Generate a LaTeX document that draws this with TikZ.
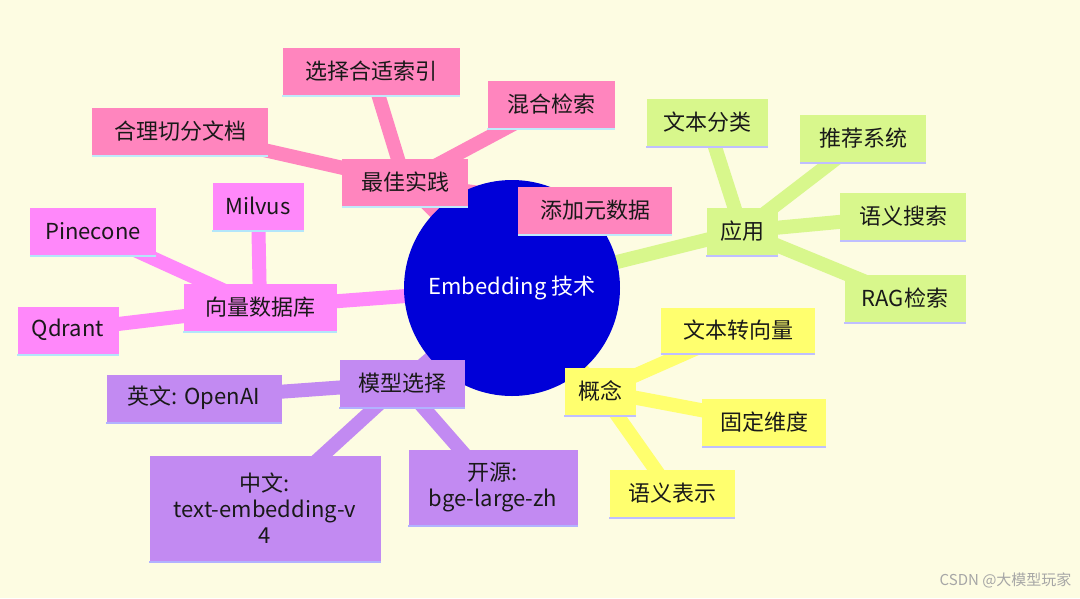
\documentclass[tikz,border=0pt]{standalone}
\usepackage{fontspec}
\setmainfont{Noto Sans CJK SC}
\begin{document}
\begin{tikzpicture}[x=1pt,y=-1pt,
  box/.style={inner sep=0pt, minimum height=47pt, align=center, font=\fontsize{22}{26}\selectfont, text=black!90},
  pk/.style={box, fill=pinkc}, gr/.style={box, fill=greenc}, ye/.style={box, fill=yelc},
  pu/.style={box, fill=purc}, mg/.style={box, fill=magc},
  ln/.style={line width=14pt}]
\definecolor{bgc}{HTML}{FDFCE2}
\definecolor{pinkc}{HTML}{FF85BE}
\definecolor{greenc}{HTML}{D8F78C}
\definecolor{yelc}{HTML}{FFFF6E}
\definecolor{purc}{HTML}{C28AF2}
\definecolor{magc}{HTML}{FF88FA}
\definecolor{bluec}{HTML}{0000D8}
\fill[bgc] (0,0) rectangle (1080,598);
\useasboundingbox (0,0) rectangle (1080,598);
\coordinate (c) at (512,288);
\path
 (405,182) coordinate[pk,minimum width=126pt] (bp)
 (371,71) coordinate (bp1) (551,104) coordinate (bp2) (180,131) coordinate (bp3) (595,210) coordinate (bp4)
 (742,231) coordinate (ap) (707,122) coordinate (ap1) (863,138) coordinate (ap2) (903,216) coordinate (ap3) (905,298) coordinate (ap4)
 (600,391) coordinate (co) (738,330) coordinate (co1) (764,422) coordinate (co2) (672,493) coordinate (co3)
 (402,383) coordinate (mo) (194,398) coordinate (mo1) (265,508) coordinate (mo2) (493,487) coordinate (mo3)
 (260,307) coordinate (db) (258,206) coordinate (db1) (93,231) coordinate (db2) (68,330) coordinate (db3);
% edges
\begin{scope}[ln]
\draw[pinkc] (c)--(bp) (bp)--(bp1) (bp)--(bp2) (bp)--(bp3) (bp)--(bp4);
\draw[greenc] (c)--(ap) (ap)--(ap1) (ap)--(ap2) (ap)--(ap3) (ap)--(ap4);
\draw[yelc] (c)--(co) (co)--(co1) (co)--(co2) (co)--(co3);
\draw[purc] (c)--(mo) (mo)--(mo1) (mo)--(mo2) (mo)--(mo3);
\draw[magc] (c)--(db) (db)--(db1) (db)--(db2) (db)--(db3);
\end{scope}
\node[circle, fill=bluec, minimum size=216pt, inner sep=0pt, text=white, font=\fontsize{22}{26}\selectfont] (root) at (c) {Embedding 技术};
\path
 (bp) node[pk,minimum width=126pt] (nbp) {最佳实践}
 (bp1) node[pk,minimum width=177pt] (nbp1) {选择合适索引}
 (bp2) node[pk,minimum width=127pt] (nbp2) {混合检索}
 (bp3) node[pk,minimum width=176pt] (nbp3) {合理切分文档}
 (bp4) node[pk,minimum width=154pt] (nbp4) {添加元数据}
 (ap) node[gr,minimum width=71pt] (nap) {应用}
 (ap1) node[gr,minimum width=121pt] (nap1) {文本分类}
 (ap2) node[gr,minimum width=126pt] (nap2) {推荐系统}
 (ap3) node[gr,minimum width=126pt] (nap3) {语义搜索}
 (ap4) node[gr,minimum width=121pt] (nap4) {RAG检索}
 (co) node[ye,minimum width=71pt] (nco) {概念}
 (co1) node[ye,minimum width=154pt,minimum height=45pt] (nco1) {文本转向量}
 (co2) node[ye,minimum width=124pt] (nco2) {固定维度}
 (co3) node[ye,minimum width=125pt] (nco3) {语义表示}
 (mo) node[pu,minimum width=125pt] (nmo) {模型选择}
 (mo1) node[pu,minimum width=175pt] (nmo1) {英文: OpenAI}
 (mo2) node[pu,minimum width=231pt,minimum height=105pt] (nmo2) {中文:\\text-embedding-v\\4}
 (mo3) node[pu,minimum width=169pt,minimum height=75pt] (nmo3) {开源:\\bge-large-zh}
 (db) node[mg,minimum width=153pt] (ndb) {向量数据库}
 (db1) node[mg,minimum width=91pt] (ndb1) {Milvus}
 (db2) node[mg,minimum width=126pt] (ndb2) {Pinecone}
 (db3) node[mg,minimum width=101pt] (ndb3) {Qdrant};
\foreach \n/\b in {nbp/cyan!25, nbp1/cyan!25, nbp2/cyan!25, nbp3/cyan!25, nbp4/cyan!25,
  nap/blue!25, nap1/blue!25, nap2/blue!25, nap3/blue!25, nap4/blue!25,
  nco/blue!25, nco1/blue!25, nco2/blue!25, nco3/blue!25,
  nmo/blue!30, nmo1/blue!30, nmo2/blue!30, nmo3/blue!30,
  ndb/cyan!30, ndb1/cyan!30, ndb2/cyan!30, ndb3/cyan!30}{
  \draw[\b, line width=2pt] ([yshift=-1pt]\n.south west) -- ([yshift=-1pt]\n.south east);
}
\node[anchor=east, text=gray!70, font=\fontsize{15}{18}\selectfont] (wm) at (1075,580) {CSDN @大模型玩家};
\end{tikzpicture}
\end{document}
